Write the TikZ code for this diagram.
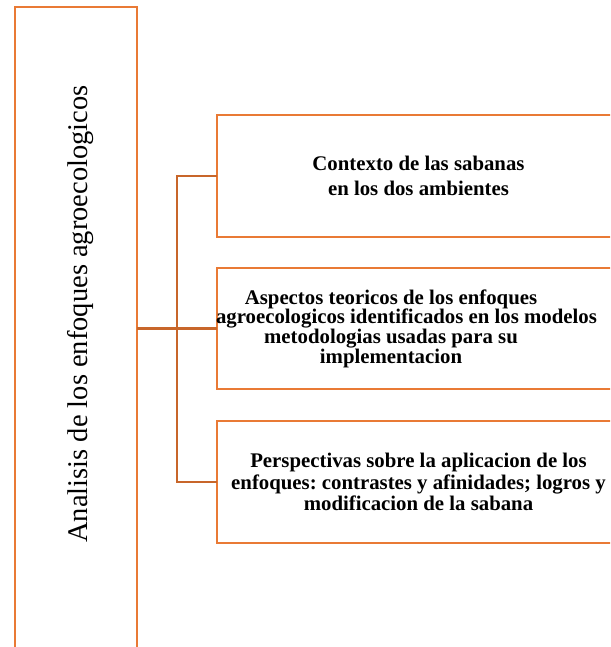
\documentclass[tikz,border=0pt]{standalone}
\usepackage{fontspec}
\setmainfont{Liberation Serif}
\frenchspacing
\definecolor{boxor}{HTML}{E97A35}
\definecolor{connor}{HTML}{C8662A}
\begin{document}
\begin{tikzpicture}[x=1pt,y=-1pt,
  frame/.style={draw=boxor,line width=2.2pt,rectangle,inner sep=0pt,outer sep=0pt},
  conn/.style={draw=connor,line width=2.2pt},
  lbl/.style={font=\bfseries\fontsize{20.8pt}{#1}\selectfont,align=center,inner sep=0pt,text=black}]
\useasboundingbox (0,0) rectangle (610,647);
\clip (0,0) rectangle (610,647);
\node[frame,minimum width=122pt,minimum height=663pt] (main) at (76,338.5) {};
\node[frame,minimum width=403pt,minimum height=122pt] (b1) at (418.5,176) {};
\node[frame,minimum width=403pt,minimum height=121pt] (b2) at (418.5,328.5) {};
\node[frame,minimum width=403pt,minimum height=122pt] (b3) at (418.5,482) {};
\node[rotate=90,anchor=base,font=\fontsize{28.5pt}{30pt}\selectfont,inner sep=0pt] (title) at (87,314) {Analisis de los enfoques agroecologicos};
\node[lbl=25pt] (t1) at (b1.center) {Contexto de las sabanas\\en los dos ambientes};
\node[lbl=19.7pt] (t2) at ([xshift=-27.5pt]b2.center) {Aspectos teoricos de los enfoques\\\makebox[350pt][l]{agroecologicos identificados en los modelos}\\metodologias usadas para su\\implementacion};
\node[lbl=21.5pt] (t3) at (b3.center) {Perspectivas sobre la aplicacion de los\\enfoques: contrastes y afinidades; logros y\\modificacion de la sabana};
\draw[conn] (b1.west) -- ++(-40,0) |- (b3.west);
\draw[conn] (main.east |- b2.west) -- (b2.west);
\end{tikzpicture}
\end{document}
